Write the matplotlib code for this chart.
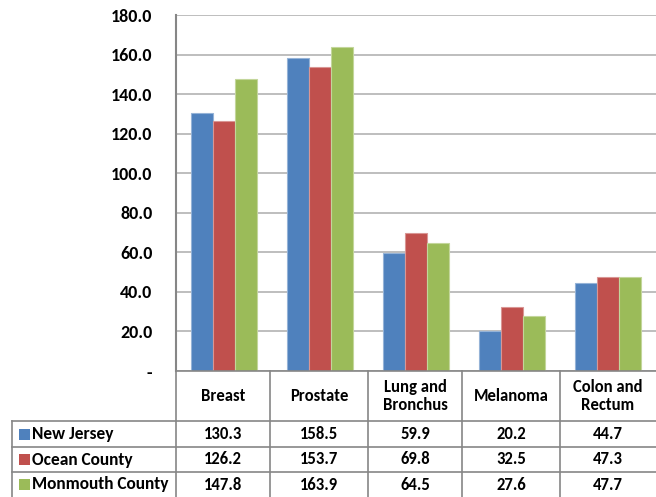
import matplotlib
matplotlib.use("Agg")
import matplotlib.pyplot as plt
from matplotlib.lines import Line2D
from matplotlib.patches import Rectangle
import numpy as np

categories = ["Breast", "Prostate", "Lung and\nBronchus", "Melanoma", "Colon and\nRectum"]
series_names = ["New Jersey", "Ocean County", "Monmouth County"]
new_jersey = [130.3, 158.5, 59.9, 20.2, 44.7]
ocean_county = [126.2, 153.7, 69.8, 32.5, 47.3]
monmouth_county = [147.8, 163.9, 64.5, 27.6, 47.7]
series = [new_jersey, ocean_county, monmouth_county]
colors = ["#4F81BD", "#C0504D", "#9BBB59"]
edge_colors = ["#95B3D7", "#D99694", "#C3D69B"]
yticks = [0, 20, 40, 60, 80, 100, 120, 140, 160, 180]
ytick_labels = ["-" if v == 0 else f"{v:.1f}" for v in yticks]

W, H = 656, 497
plt.rcParams['font.family'] = ['Carlito', 'DejaVu Sans']
fig = plt.figure(figsize=(W / 100, H / 100), dpi=100)

def fx(px):
    return px / W

def fy(py):
    return 1 - py / H

ax_left, ax_right, ax_top, ax_bottom = 176, 656, 15, 371
ax = fig.add_axes([fx(ax_left), fy(ax_bottom), fx(ax_right - ax_left), (ax_bottom - ax_top) / H])
n = len(categories)
x = np.arange(n)
bw = 0.226
for i, (vals, c, ec) in enumerate(zip(series, colors, edge_colors)):
    ax.bar(x + (i - 1) * bw, vals, width=bw, color=c, edgecolor=ec, linewidth=0.8, zorder=3)
ax.set_xlim(-0.5, n - 0.5)
ax.set_ylim(0, 180)
ax.set_yticks(yticks)
ax.set_yticklabels(ytick_labels, fontsize=13, fontweight="bold")
ax.tick_params(axis="y", length=0, pad=17)
ax.set_xticks([])
ax.yaxis.grid(True, color="#B3B3B3", linewidth=1.2, zorder=0)
for s in ["top", "right", "bottom"]:
    ax.spines[s].set_visible(False)
ax.spines["left"].set_color("#868686")
ax.spines["left"].set_linewidth(1.5)

# data table
col_edges = [176, 270, 368, 462, 560, 656]
row_lines = [421, 447, 472, 497]
line_kw = dict(color="#868686", linewidth=1.2, transform=fig.transFigure)
fig.add_artist(Line2D([fx(176), fx(656)], [fy(371), fy(371)], **line_kw))
for xe in col_edges[:-1]:
    fig.add_artist(Line2D([fx(xe), fx(xe)], [fy(371), fy(497)], **line_kw))
fig.add_artist(Line2D([fx(12), fx(12)], [fy(421), fy(497)], **line_kw))
for ry in row_lines[:-1]:
    fig.add_artist(Line2D([fx(12), fx(656)], [fy(ry), fy(ry)], **line_kw))

for j, cat in enumerate(categories):
    cx = (col_edges[j] + col_edges[j + 1]) / 2
    fig.text(fx(cx), fy(396), cat, ha="center", va="center", fontsize=12, fontweight="bold",
             linespacing=1.15)

for i, (name, vals, c) in enumerate(zip(series_names, series, colors)):
    cy = (row_lines[i] + row_lines[i + 1]) / 2
    fig.add_artist(Rectangle((fx(19), fy(cy + 5.5)), fx(11), 11 / H, facecolor=c,
                             edgecolor="none", transform=fig.transFigure))
    fig.text(fx(32), fy(cy), name, ha="left", va="center", fontsize=12.5, fontweight="bold")
    for j, v in enumerate(vals):
        cx = (col_edges[j] + col_edges[j + 1]) / 2
        fig.text(fx(cx), fy(cy), f"{v:.1f}", ha="center", va="center", fontsize=12,
                 fontweight="bold")

fig.savefig("out.png", dpi=100)
